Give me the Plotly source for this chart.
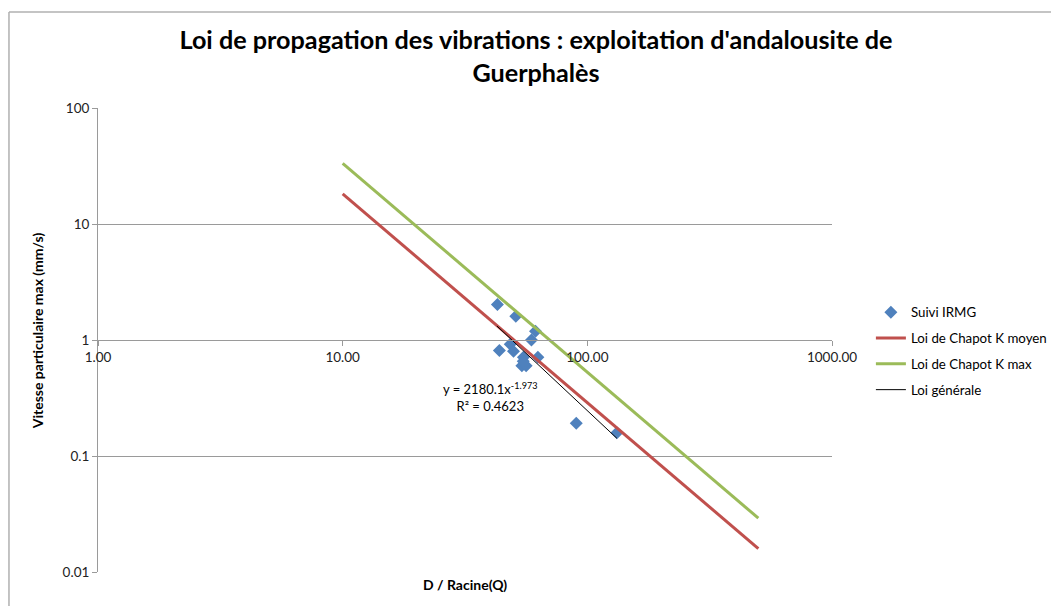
import plotly.graph_objects as go

# --- data ---
suivi_x = [42.9, 51.0, 61.4, 59.1, 48.4, 43.7, 49.9, 54.8, 62.8, 54.0, 56.2, 54.7, 90.1, 132.1]
suivi_y = [2.02, 1.60, 1.19, 1.00, 0.92, 0.81, 0.80, 0.71, 0.71, 0.60, 0.60, 0.655, 0.192, 0.159]

chapot_moyen_x = [10, 500]
chapot_moyen_y = [18.2, 0.0159]
chapot_max_x = [10, 500]
chapot_max_y = [33.3, 0.0291]
loi_gen_x = [42.7, 132.1]
loi_gen_y = [1.32, 0.142]

x_tickvals = [1, 10, 100, 1000]
x_ticktext = ["1.00", "10.00", "100.00", "1000.00"]
y_tickvals = [0.01, 0.1, 1, 10, 100]
y_ticktext = ["0.01", "0.1", "1", "10", "100"]

FONT = "Lato, 'Open Sans', sans-serif"
GRID = "#9a9a9a"

fig = go.Figure()
fig.add_trace(go.Scatter(x=suivi_x, y=suivi_y, mode="markers", name="Suivi IRMG",
                         legendgroup="a",
                         marker=dict(symbol="diamond", size=10, color="#4F81BD")))
fig.add_trace(go.Scatter(x=chapot_moyen_x, y=chapot_moyen_y, mode="lines",
                         name="Loi de Chapot K moyen", legendgroup="b",
                         line=dict(color="#C0504D", width=3)))
fig.add_trace(go.Scatter(x=chapot_max_x, y=chapot_max_y, mode="lines",
                         name="Loi de Chapot K max", legendgroup="c",
                         line=dict(color="#9BBB59", width=3)))
fig.add_trace(go.Scatter(x=loi_gen_x, y=loi_gen_y, mode="lines",
                         name="Loi générale", legendgroup="d",
                         line=dict(color="#000000", width=1)))

fig.update_layout(
    width=1051, height=606,
    margin=dict(l=98, r=219, t=108, b=34, autoexpand=False),
    paper_bgcolor="white", plot_bgcolor="white",
    font=dict(family=FONT, size=13, color="#000000"),
    title=dict(text="<b>Loi de propagation des vibrations : exploitation d'andalousite de<br>Guerphalès</b>",
               x=0.51, xanchor="center", y=0.919, yanchor="middle",
               font=dict(family=FONT, size=25.2, color="#000000")),
    showlegend=True,
    legend=dict(x=1.053, xanchor="left", y=0.476, yanchor="middle",
                font=dict(family=FONT, size=13.3), tracegroupgap=5.5,
                bgcolor="rgba(0,0,0,0)"),
    xaxis=dict(type="log", range=[0, 3], tickvals=x_tickvals, ticktext=x_ticktext,
               showgrid=False, showline=True, linecolor=GRID, linewidth=1,
               ticks="outside", ticklen=5, tickcolor=GRID,
               anchor="free", position=0.5, zeroline=False,
               tickfont=dict(size=13.5, color="#222222")),
    yaxis=dict(type="log", range=[-2, 2], tickvals=y_tickvals, ticktext=y_ticktext,
               showgrid=True, gridcolor=GRID, gridwidth=1,
               showline=True, linecolor=GRID, linewidth=1,
               ticks="outside", ticklen=5, tickcolor=GRID, zeroline=False,
               tickfont=dict(size=13.5, color="#222222")),
    annotations=[
        dict(text="y = 2180.1x<sup>-1.973</sup><br>R² = 0.4623", x=1.602, y=-0.49,
             xref="x", yref="y", showarrow=False, align="center",
             font=dict(family=FONT, size=13, color="#000000")),
        dict(text="<b>D / Racine(Q)</b>", x=0.5, y=-0.028, xref="paper", yref="paper",
             xanchor="center", yanchor="middle", showarrow=False,
             font=dict(family=FONT, size=14, color="#000000")),
        dict(text="<b>Vitesse particulaire max (mm/s)</b>", x=-0.083, y=0.519,
             xref="paper", yref="paper", textangle=-90, xanchor="center",
             yanchor="middle", showarrow=False,
             font=dict(family=FONT, size=14, color="#000000")),
    ],
    shapes=[
        dict(type="line", xref="paper", yref="paper", x0=-0.1213, x1=1.31,
             y0=1.2069, y1=1.2069, line=dict(color="#b0b0b0", width=1.5)),
        dict(type="line", xref="paper", yref="paper", x0=-0.1213, x1=-0.1213,
             y0=1.2069, y1=-0.08, line=dict(color="#b0b0b0", width=1.5)),
    ],
)

fig.write_html("out.html", config={"displayModeBar": False},
               post_script="document.body.style.margin='0';")
